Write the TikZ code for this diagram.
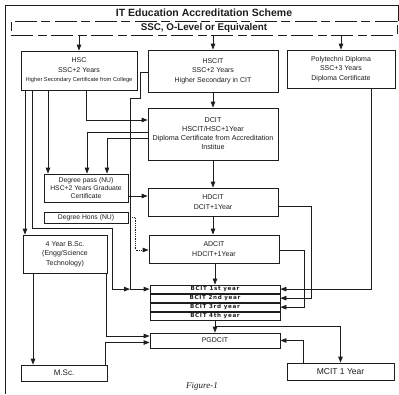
\documentclass[tikz,border=0pt]{standalone}
\usepackage{fontspec}
\setmainfont{Liberation Sans}
\newfontfamily\widefont[LetterSpace=12]{DejaVu Sans}
\newfontfamily\capfont{Liberation Serif}
\usetikzlibrary{arrows.meta,positioning,calc}
\definecolor{ink}{HTML}{1D1D1B}
\tikzset{
  box/.style={draw=ink, line width=0.8pt, inner sep=1pt, align=center, text=ink, font=\fontsize{7}{9.5}\selectfont},
  midbox/.style={box, minimum width=130pt},
  yearbox/.style={box, minimum width=130pt, minimum height=8.25pt, inner sep=0pt, font=\widefont\bfseries\fontsize{5.6}{5.8}\selectfont},
  arr/.style={-{Triangle[length=6pt,width=4.5pt]}, line width=0.8pt, draw=ink},
  frame/.style={line width=0.8pt, draw=ink},
}

\begin{document}
\begin{tikzpicture}[x=1pt, y=-1pt]
    \useasboundingbox (0,0) rectangle (399,394);
    \draw[frame] (5,394) -- (5,5) -- (398,5) -- (398,21);
    \node[font=\bfseries\fontsize{10.5}{12}\selectfont, text=ink] (title) at (204,13) {IT Education Accreditation Scheme};
    \node[draw=ink, line width=0.9pt, dash pattern=on 22pt off 5pt on 9pt off 4pt, minimum width=386pt, minimum height=14pt, inner sep=0pt,
      font=\bfseries\fontsize{9.8}{10}\selectfont, text=ink] (ssc) at (204,28) {SSC, O-Level or Equivalent};
    % first row
    \node[box, minimum width=116pt, minimum height=39pt] (hsc) at (79,70.5)
      {HSC\\SSC+2 Years\\{\fontsize{5.7}{6}\selectfont Higher Secondary Certificate from College}};
    \node[midbox, minimum height=42pt] (hscit) at (213,71)
      {HSCIT\\SSC+2 Years\\Higher Secondary in CIT};
    \node[box, minimum width=108pt, minimum height=38pt] (poly) at (341,69)
      {Polytechni Diploma\\SSC+3 Years\\Diploma Certificate};
    % middle column
    \node[midbox, minimum height=52pt, font=\fontsize{7.2}{9}\selectfont] (dcit) at (213,134)
      {DCIT\\HSCIT/HSC+1Year\\Diploma Certificate from Accreditation\\Institue};
    \node[midbox, minimum height=28pt] (hdcit) at (213,202) {HDCIT\\DCIT+1Year};
    \node[midbox, minimum height=28pt] (adcit) at (214,249) {ADCIT\\HDCIT+1Year};
    \node[yearbox] (bc1) at (215,289.1) {BCIT 1st year};
    \node[yearbox, below=0pt of bc1] (bc2) {BCIT 2nd year};
    \node[yearbox, below=0pt of bc2] (bc3) {BCIT 3rd year};
    \node[yearbox, below=0pt of bc3] (bc4) {BCIT 4th year};
    \node[midbox, minimum height=15pt] (pgdcit) at (215,340.5) {PGDCIT};
    % left column
    \node[box, minimum width=84pt, minimum height=28pt, font=\fontsize{6.8}{8}\selectfont] (dpass) at (86,188)
      {Degree pass (NU)\\HSC+2 Years Graduate\\Certificate};
    \node[box, minimum width=84pt, minimum height=11pt, inner sep=0pt, font=\fontsize{6.8}{7}\selectfont] (dhons) at (86,217.5) {Degree Hons (NU)};
    \node[box, minimum width=84pt, minimum height=38pt] (bsc) at (65,254)
      {4 Year B.Sc.\\(Engg/Science\\Technology)};
    \node[box, minimum width=86pt, minimum height=16pt, font=\fontsize{8}{9}\selectfont] (msc) at (64,373) {M.Sc.};
    \node[box, minimum width=107pt, minimum height=17pt, font=\fontsize{8.5}{9}\selectfont] (mcit) at (340.5,371.5) {MCIT 1 Year};
    \node[font=\capfont\itshape\fontsize{9}{10}\selectfont, text=ink] (cap) at (202,386) {Figure-1};
    \coordinate (hj) at (130,289.1);
    % from SSC
    \draw[arr] (ssc.south -| hsc.north) -- (hsc.north);
    \draw[arr] (ssc.south -| hscit.north) -- (hscit.north);
    \draw[arr] (ssc.south -| poly.north) -- (poly.north);
    % middle chain
    \draw[arr] (hscit) -- (dcit);
    \draw[arr] (dcit) -- (hdcit);
    \draw[arr] (hdcit) -- (adcit.north -| hdcit);
    \draw[arr] (adcit.south -| bc1) -- (bc1);
    \draw[arr] (bc4) -- (pgdcit);
    % from HSC
    \draw[arr] ([xshift=7pt]hsc.south) |- ([yshift=14pt]dcit.west);
    \draw[arr] ([xshift=-31pt]hsc.south) -- ([xshift=-38pt]dpass.north);
    \draw[arr] ([xshift=-54pt]hsc.south) -- ([xshift=-40pt]bsc.north);
    \draw[arr] ([xshift=-47pt]hsc.south) -- ++(0,138) -| ([xshift=-18pt]hj) -- (hj);
    \draw[arr] ([yshift=-1pt]hscit.west) -- ++(-7,0) -- ++(0,26) -| (hj) -- (bc1.west);
    % from DCIT
    \draw[arr] ([yshift=2pt]dcit.west) -| ([xshift=1pt]dpass.north);
    \draw[arr] ([yshift=-4pt]dcit.west) -| ([xshift=21pt]dpass.north);
    \draw[arr] ([yshift=-8pt]dpass.east) -- ([yshift=-8pt]dpass.east -| hdcit.west);
    \draw[arr, densely dotted] (dhons.east) -- ++(7,0) |- ([yshift=-1pt]adcit.west);
    % right side
    \draw[arr] ([xshift=30pt]poly.south) |- (bc1.east);
    \draw[arr] ([yshift=-4pt]hdcit.east) -- ++(33,0) |- (bc2.east);
    \draw[arr] ([yshift=-1pt]adcit.east) -- ++(25,0) |- (bc3.east);
    % bottom
    \draw[arr] ([xshift=-32pt]bsc.south) -- ([xshift=-31pt]msc.north);
    \draw[arr] ([xshift=41pt]bsc.south) |- ([yshift=4.5pt]pgdcit.west);
    \draw[arr] ([xshift=41pt]msc.north) |- ([yshift=-2pt]pgdcit.west);
    \draw[arr] ([yshift=-6pt]bc4.south) -| (mcit.north);
    \draw[arr] ([xshift=-37pt]mcit.north) |- (pgdcit.east);
\end{tikzpicture}
\end{document}
